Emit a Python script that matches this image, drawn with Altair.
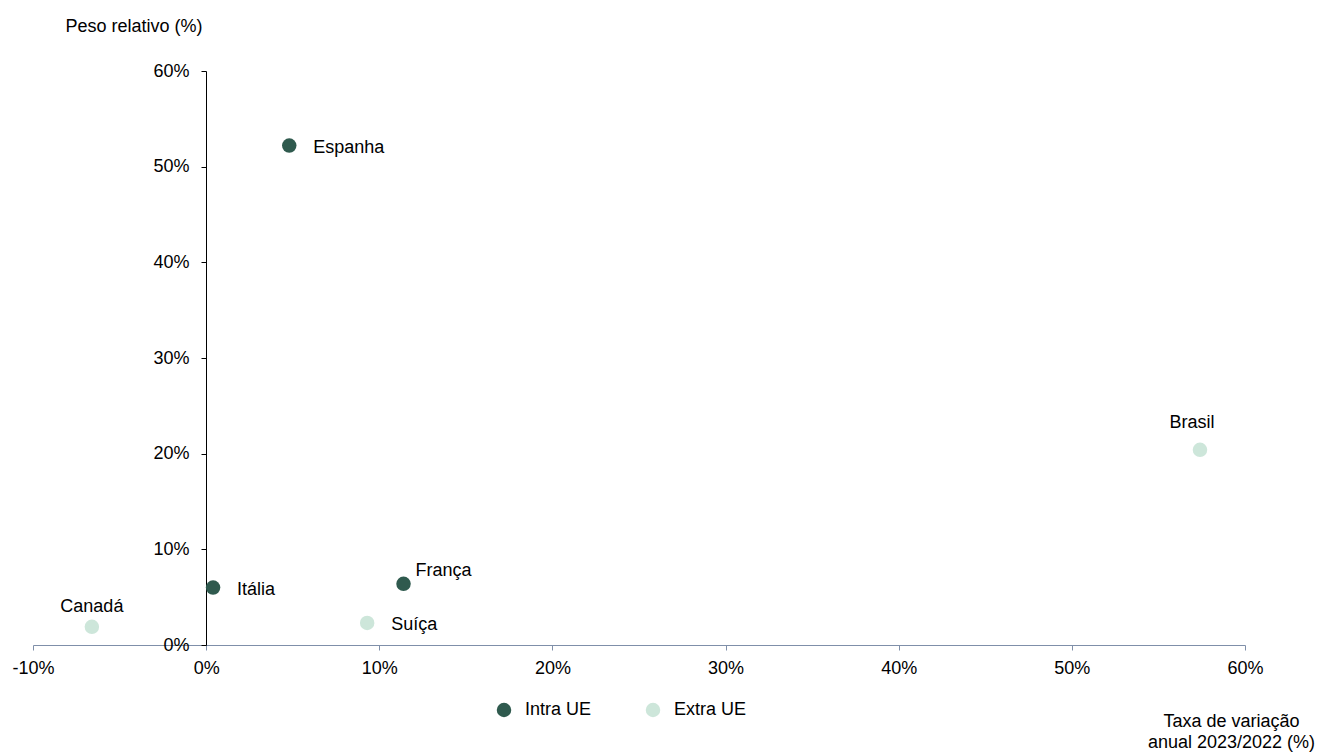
import altair as alt
import pandas as pd

countries = ["Espanha", "Itália", "França", "Suíça", "Canadá", "Brasil"]
growth = [4.8, 0.4, 11.4, 9.3, -6.6, 57.4]
weight = [52.2, 6.0, 6.4, 2.3, 1.9, 20.4]
groups = ["Intra UE", "Intra UE", "Intra UE", "Extra UE", "Extra UE", "Extra UE"]
group_order = ["Intra UE", "Extra UE"]
x_ticks = [-10, 0, 10, 20, 30, 40, 50, 60]
y_ticks = [0, 10, 20, 30, 40, 50, 60]

df = pd.DataFrame({"country": countries, "growth": growth, "weight": weight, "group": groups})

FONT = "Liberation Sans"
DARK = "#2F5A4E"
LIGHT = "#CDE6DA"

x = alt.X(
    "growth:Q",
    scale=alt.Scale(domain=[-10, 60], nice=False, zero=False),
    axis=alt.Axis(
        values=x_ticks, labelExpr="datum.value + '%'", grid=False,
        domainColor="#7F8FA9", tickColor="#7F8FA9", tickSize=5,
        labelPadding=9, labelFontSize=18, labelColor="#000000", labelFlush=False,
        title=["Taxa de variação", "anual 2023/2022 (%)"],
        titleX=1198, titleY=81, titleAlign="center", titleBaseline="alphabetic",
        titleFontSize=18, titleFontWeight="normal", titleLineHeight=21,
        titleColor="#000000", titleAngle=0,
    ),
)
y = alt.Y(
    "weight:Q",
    scale=alt.Scale(domain=[0, 60], nice=False, zero=True),
    axis=alt.Axis(
        values=y_ticks, labelExpr="datum.value + '%'", grid=False,
        offset=-173, domainColor="#000000", tickColor="#000000", tickSize=5,
        labelPadding=12, labelFontSize=18, labelColor="#000000", labelFlush=False,
        title="Peso relativo (%)", titleAngle=0, titleX=-4, titleY=-40,
        titleAlign="right", titleBaseline="alphabetic", titleFontSize=18,
        titleFontWeight="normal", titleColor="#000000",
    ),
)

base = alt.Chart(df)

points = base.mark_circle(size=210, opacity=1).encode(
    x=x,
    y=y,
    color=alt.Color(
        "group:N",
        scale=alt.Scale(domain=group_order, range=[DARK, LIGHT]),
        sort=group_order,
        legend=alt.Legend(
            title=None, orient="none", legendX=462, legendY=630,
            direction="horizontal", symbolType="circle", symbolSize=210,
            symbolStrokeWidth=0, symbolOpacity=1, labelFontSize=18,
            labelColor="#000000", columnPadding=52, labelOffset=12,
        ),
    ),
)

def labels(names, **kw):
    return base.transform_filter(
        alt.FieldOneOfPredicate(field="country", oneOf=names)
    ).mark_text(fontSize=18, color="#000000", font=FONT, **kw).encode(
        x="growth:Q", y="weight:Q", text="country:N"
    )

t_right = labels(["Espanha", "Itália", "Suíça"], align="left", baseline="middle", dx=24, dy=2)
t_fr = labels(["França"], align="left", baseline="middle", dx=12, dy=-13)
t_ca = labels(["Canadá"], align="center", baseline="middle", dy=-20)
t_br = labels(["Brasil"], align="center", baseline="middle", dx=-8, dy=-27)

chart = alt.layer(points, t_right, t_fr, t_ca, t_br).properties(
    width=1212, height=574,
    autosize=alt.AutoSizeParams(type="none"),
    padding={"left": 25, "top": 63, "right": 70, "bottom": 107},
    background="#ffffff",
).configure(font=FONT).configure_view(stroke=None)

chart.save("out.html", embed_options={"renderer": "svg", "actions": False})
